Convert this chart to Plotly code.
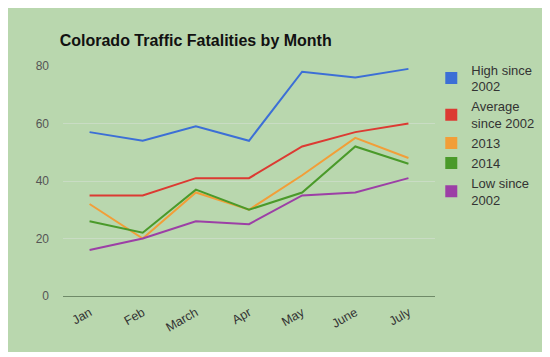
import plotly.graph_objects as go

months = ["Jan", "Feb", "March", "Apr", "May", "June", "July"]
high = [57, 54, 59, 54, 78, 76, 79]
average = [35, 35, 41, 41, 52, 57, 60]
y2013 = [32, 20, 36, 30, 42, 55, 48]
y2014 = [26, 22, 37, 30, 36, 52, 46]
low = [16, 20, 26, 25, 35, 36, 41]

series = [
    ("High since<br>2002", high, "#3c6fd6"),
    ("Average<br>since 2002", average, "#dc3a32"),
    ("2013", y2013, "#f29e38"),
    ("2014", y2014, "#4a9a2a"),
    ("Low since<br>2002", low, "#9c3fa6"),
]

fig = go.Figure()
for name, vals, col in series:
    fig.add_trace(go.Scatter(x=months, y=vals, mode="lines", line=dict(color=col, width=2),
                             showlegend=False, hoverinfo="skip"))
for name, vals, col in series:
    fig.add_trace(go.Scatter(x=[None], y=[None], mode="markers", name=name,
                             marker=dict(symbol="square", size=12, color=col)))

fig.update_layout(
    width=550, height=357,
    margin=dict(l=55, r=123, t=58, b=69),
    paper_bgcolor="white",
    plot_bgcolor="rgba(0,0,0,0)",
    font=dict(family="Liberation Sans, Arial", size=11, color="#444"),
    title=dict(text="<b>Colorado Traffic Fatalities by Month</b>", x=0.094, xanchor="left",
               y=0.91, yanchor="middle", font=dict(size=16, color="#111")),
    xaxis=dict(type="category", range=[-0.5, 6.5], showgrid=False, showline=False,
               tickangle=-30, ticks="", automargin=False, ticklabelstandoff=6,
               tickfont=dict(size=12.5, color="#333")),
    yaxis=dict(range=[0, 80], tickvals=[0, 20, 40, 60, 80], showgrid=True,
               gridcolor="#c9dcc4", zeroline=True, zerolinecolor="#6f8a68", zerolinewidth=1,
               ticks="", automargin=False, ticklabelstandoff=13,
               tickfont=dict(size=12, color="#555")),
    legend=dict(x=0.99, y=1.05, xanchor="left", yanchor="top", bgcolor="rgba(0,0,0,0)",
                font=dict(size=13, color="#333"), tracegroupgap=0, itemsizing="constant"),
    shapes=[dict(type="rect", xref="paper", yref="paper", x0=-0.153, x1=1.296, y0=-0.243, y1=1.265,
                 fillcolor="#b9d7ae", line=dict(width=0), layer="below")],
)

fig.write_html("out.html")
